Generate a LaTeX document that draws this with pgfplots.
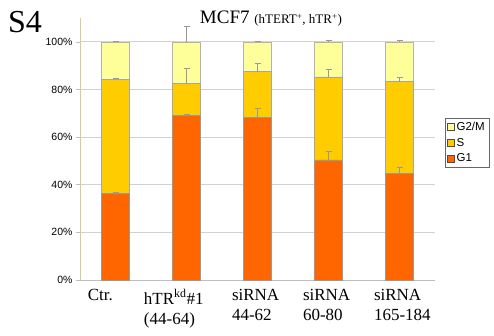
\documentclass[border=0pt]{standalone}
\usepackage{pgfplots}
\pgfplotsset{compat=1.18}
\usepackage{fontspec}
\setmainfont{Liberation Serif}
\newfontfamily\arialf{Liberation Sans}
\definecolor{cG1}{HTML}{FF6600}
\definecolor{cS}{HTML}{FFCC00}
\definecolor{cG2}{HTML}{FFFF99}
\definecolor{yax}{HTML}{D6CF8A}
\begin{document}
\begin{tikzpicture}
\begin{axis}[
  scale only axis, width=355pt, height=262pt,
  xmin=-0.5, xmax=4.5, ymin=0, ymax=110,
  ybar stacked, bar width=28pt,
  axis lines*=left,
  y axis line style={draw=yax, line width=0.8pt},
  x axis line style={draw=black!25, line width=0.8pt},
  xtick={-0.03,0.76,2,3,4},
  xticklabels={Ctr., {hTR\textsuperscript{kd}\#1\\(44-64)}, {siRNA\\44-62}, {siRNA\\60-80}, {siRNA\\165-184}},
  xticklabel style={align=left, font=\fontsize{17}{20}\selectfont, anchor=north west, xshift=-29pt, yshift=-2pt},
  x tick style={draw=none},
  ytick={0,20,40,60,80,100},
  yticklabel={\pgfmathprintnumber{\tick}\%},
  yticklabel style={font=\arialf\fontsize{10.5}{12}\selectfont},
  /pgf/number format/assume math mode=true,
  tick align=outside, major tick length=4pt,
  y tick style={draw=black!25, line width=0.6pt},
  ymajorgrids, grid style={draw=black!18, line width=0.8pt},
  legend style={at={(1.028,0.618)}, anchor=north west, draw=black!60, font=\arialf\fontsize{11.5}{13}\selectfont, row sep=2pt, inner sep=2pt, cells={anchor=west}},
  reverse legend,
  legend image code/.code={\draw[#1,draw=black!70] (0pt,-3.5pt) rectangle (7pt,3.5pt);},
  error bars/y dir=plus, error bars/y explicit,
  error bars/error bar style={draw=black!40, line width=0.6pt},
  error bars/error mark options={rotate=90, mark size=3pt, draw=black!40, line width=0.6pt},
]
\addplot[fill=cG1, draw=black!40, line width=0.5pt] coordinates {(0,36.5) +- (0,0.5) (1,69.0) +- (0,0.5) (2,68.3) +- (0,3.8) (3,50.4) +- (0,3.5) (4,44.7) +- (0,2.5)};
\addplot[fill=cS, draw=black!35, line width=0.5pt] coordinates {(0,47.7) +- (0,0.5) (1,13.5) +- (0,6.5) (2,19.2) +- (0,3.5) (3,34.9) +- (0,3.0) (4,38.6) +- (0,2.0)};
\addplot[fill=cG2, draw=black!30, line width=0.5pt] coordinates {(0,15.8) +- (0,0.3) (1,17.5) +- (0,6.4) (2,12.5) +- (0,0.3) (3,14.7) +- (0,0.8) (4,16.7) +- (0,0.5)};
\legend{G1,S,G2/M}
\end{axis}
\path[use as bounding box] (-80pt,-55pt) rectangle (414pt,280pt);
\node at (-55pt,258pt) {\fontsize{32}{34}\selectfont S4};
\node at (191pt,261pt) {\fontsize{19}{22}\selectfont MCF7 {\fontsize{13}{15}\selectfont(hTERT\textsuperscript{+}, hTR\textsuperscript{+})}};
\end{tikzpicture}
\end{document}
